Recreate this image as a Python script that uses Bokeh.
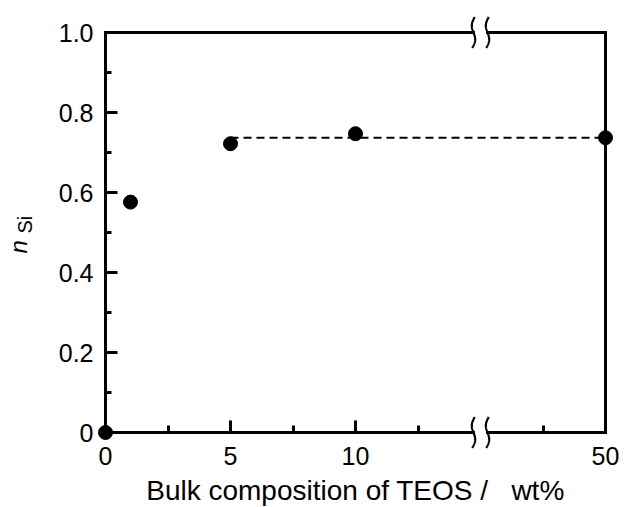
import numpy as np
from bokeh.plotting import figure
from bokeh.models import Range1d, FixedTicker, Label
from bokeh.embed import file_html
from bokeh.resources import INLINE

# ---------------- data ----------------
TEOS_WT = [0, 1, 5, 10, 50]                 # bulk composition of TEOS / wt%
N_SI = [0.0, 0.576, 0.722, 0.747, 0.737]    # n_Si
PLATEAU_X = [5, 50]
PLATEAU_Y = [0.737, 0.737]

X_TICKS = [0, 5, 10, 50]
X_TICK_LABELS = ["0", "5", "10", "50"]
X_MINOR_TICKS = [2.5, 7.5, 12.5, 47.5]
Y_TICKS = [0, 0.2, 0.4, 0.6, 0.8, 1.0]
Y_TICK_LABELS = ["0", "0.2", "0.4", "0.6", "0.8", "1.0"]
Y_MINOR_TICKS = [0.1, 0.3, 0.5, 0.7, 0.9]

X_LABEL = "Bulk composition of TEOS /\u00a0\u00a0\u00a0wt%"
Y_LABEL_MAIN = "n"
Y_LABEL_SUB = "Si"

# broken x axis: values above BREAK_AT are drawn BREAK_SKIP units further left
BREAK_AT = 15.0
BREAK_SKIP = 30.0
X_END = 50
Y_END = 1.0


def to_axis(v):
    return v if v <= BREAK_AT else v - BREAK_SKIP


# ---------------- layout ----------------
W, H = 624, 507
PX_X, PX_Y = 25.0, 400.0      # pixels per axis unit
BOX_LEFT, BOX_TOP = 105, 32   # pixel position of the axes' corner (0, 1)
FONT = "Liberation Sans"

p = figure(width=W, height=H, output_backend="svg", toolbar_location=None,
           title_location=None,
           x_range=Range1d(-BOX_LEFT / PX_X, (W - BOX_LEFT) / PX_X),
           y_range=Range1d(Y_END - (H - BOX_TOP) / PX_Y, Y_END + BOX_TOP / PX_Y))
p.min_border = 0
p.min_border_left = p.min_border_right = p.min_border_top = p.min_border_bottom = 0
p.outline_line_color = None
p.grid.visible = False
p.background_fill_color = "white"
p.border_fill_color = "white"

xa = p.xaxis[0]
ya = p.yaxis[0]
xa.fixed_location = 0
ya.fixed_location = 0
xa.ticker = FixedTicker(ticks=[to_axis(v) for v in X_TICKS],
                        minor_ticks=[to_axis(v) for v in X_MINOR_TICKS])
xa.major_label_overrides = {to_axis(v): l for v, l in zip(X_TICKS, X_TICK_LABELS)}
ya.ticker = FixedTicker(ticks=Y_TICKS, minor_ticks=Y_MINOR_TICKS)
ya.major_label_overrides = {v: l for v, l in zip(Y_TICKS, Y_TICK_LABELS)}

for ax in (xa, ya):
    ax.axis_line_color = None
    ax.major_tick_line_color = "black"
    ax.minor_tick_line_color = "black"
    ax.major_tick_line_width = 3
    ax.minor_tick_line_width = 3
    ax.major_tick_out = 0
    ax.minor_tick_out = 0
    ax.major_tick_in = 12
    ax.major_label_text_font = FONT
    ax.major_label_text_font_size = "25px"
    ax.major_label_text_color = "black"
xa.minor_tick_in = 7
ya.minor_tick_in = 6
xa.major_label_standoff = 14
ya.major_label_standoff = 12

# frame with gaps at the axis break
x_end = to_axis(X_END)
gap = 7 / PX_X
p.segment(x0=[0, BREAK_AT + gap, 0, BREAK_AT + gap, 0, x_end],
          y0=[0, 0, Y_END, Y_END, 0, 0],
          x1=[BREAK_AT - gap, x_end, BREAK_AT - gap, x_end, 0, x_end],
          y1=[0, 0, Y_END, Y_END, Y_END, Y_END],
          line_color="black", line_width=3, line_cap="square")

# break marks (wavy double line)
s = np.linspace(0, 1, 60)
wave = (-2.3 * np.sin(2 * np.pi * s) + 1.3 * (1 - 2 * s)) / PX_X
drop = (15.5 - 31.0 * s) / PX_Y
xs, ys = [], []
for yb in (0, Y_END):
    for xc in (BREAK_AT - gap, BREAK_AT + gap):
        xs.append(list(xc + wave))
        ys.append(list(yb + drop))
p.multi_line(xs, ys, line_color="black", line_width=2.2)

# dashed plateau line and data points
p.line([to_axis(v) for v in PLATEAU_X], PLATEAU_Y, line_color="black",
       line_width=2, line_dash="8 5")
p.scatter([to_axis(v) for v in TEOS_WT], N_SI, size=14, color="black")

# axis titles
p.add_layout(Label(x=to_axis(0) + 10, y=-58 / PX_Y, text=X_LABEL, text_align="center",
                   text_baseline="alphabetic", text_font=FONT,
                   text_font_size="28px", text_color="black"))
p.add_layout(Label(x=-87 / PX_X, y=0.4475, text=Y_LABEL_MAIN, angle=np.pi / 2,
                   text_align="left", text_baseline="alphabetic",
                   text_font=FONT, text_font_style="italic",
                   text_font_size="24px", text_color="black"))
p.add_layout(Label(x=-81 / PX_X, y=0.4975, text=Y_LABEL_SUB, angle=np.pi / 2,
                   text_align="left", text_baseline="alphabetic",
                   text_font=FONT, text_font_size="20px", text_color="black"))

open("out.html", "w").write(file_html(p, INLINE))
